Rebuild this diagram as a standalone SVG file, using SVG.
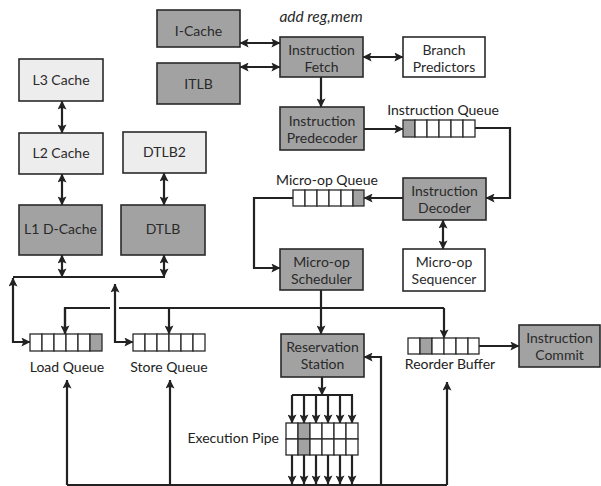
<svg xmlns="http://www.w3.org/2000/svg" width="601" height="486" viewBox="0 0 601 486">
  <defs>
    <marker id="ah" viewBox="0 0 10 10" refX="9.5" refY="5" markerUnits="userSpaceOnUse" markerWidth="9" markerHeight="9" orient="auto-start-reverse">
      <path d="M0,0 L10,5 L0,10 L2,5 z" fill="#222"/>
    </marker>
  </defs>
  <style>
    .box { stroke: #2a2a2a; stroke-width: 1.6; }
    .dark { fill: #a2a2a2; }
    .light { fill: #ededed; }
    .white { fill: #ffffff; }
    .cell { fill: #ffffff; stroke: #2a2a2a; stroke-width: 1.3; }
    .cell.g { fill: #a2a2a2; }
    text { font-family: Lato, "Open Sans", "DejaVu Sans", sans-serif; font-size: 14px; fill: #2a2a2a; text-anchor: middle; }
    .lbl { fill: #222; }
    .conn { fill: none; stroke: #222; stroke-width: 2.2; }
    .a2 { marker-start: url(#ah); marker-end: url(#ah); }
    .a1 { marker-end: url(#ah); }
  </style>

  <!-- connectors -->
  <g id="connectors">
    <path class="conn a2" d="M240,43 H280"/>
    <path class="conn a2" d="M240,67 H280"/>
    <path class="conn a2" d="M363,57 H403"/>
    <path class="conn a1" d="M321,77 V107"/>
    <path class="conn a1" d="M364,129 H403"/>
    <path class="conn a1" d="M475,128 H510 V198 H486"/>
    <path class="conn a1" d="M403,198 H364"/>
    <path class="conn a1" d="M293,198 H254 V268 H280"/>
    <path class="conn a2" d="M443,220 V249"/>
    <path class="conn a2" d="M62,101 V133"/>
    <path class="conn a2" d="M62,174 V205"/>
    <path class="conn a2" d="M164,173 V205"/>
    <path class="conn a2" d="M62,255 V277"/>
    <path class="conn a2" d="M164,255 V277"/>
    <path class="conn" d="M13,277 H165"/>
    <path class="conn a2" d="M13,278 V342 H30"/>
    <path class="conn a2" d="M115,284 V342 H133"/>
    <!-- issue bus from the scheduler -->
    <path class="conn" d="M65,334 V308 H110 M119,308 H444"/>
    <path class="conn a1" d="M65,308 V334"/>
    <path class="conn a1" d="M169,308 V334"/>
    <path class="conn a1" d="M444,308 V338"/>
    <path class="conn a1" d="M321,290 V334"/>
    <!-- execution pipe fan-out -->
    <path class="conn a1" d="M322,377 V395"/>
    <path class="conn" d="M292,395 H353"/>
    <path class="conn a1" d="M292,395 V423"/>
    <path class="conn a1" d="M304,395 V423"/>
    <path class="conn a1" d="M316,395 V423"/>
    <path class="conn a1" d="M328,395 V423"/>
    <path class="conn a1" d="M340,395 V423"/>
    <path class="conn a1" d="M352,395 V423"/>
    <path class="conn a1" d="M292,455 V484"/>
    <path class="conn a1" d="M304,455 V484"/>
    <path class="conn a1" d="M316,455 V484"/>
    <path class="conn a1" d="M328,455 V484"/>
    <path class="conn a1" d="M340,455 V484"/>
    <path class="conn a1" d="M352,455 V484"/>
    <!-- result bus -->
    <path class="conn" d="M67,485 H447"/>
    <path class="conn a1" d="M67,485 V380"/>
    <path class="conn a1" d="M170,485 V380"/>
    <path class="conn a1" d="M447,485 V382"/>
    <path class="conn a1" d="M381,485 V357 H364"/>
    <path class="conn a1" d="M479,346 H519"/>
  </g>

  <text x="321" y="22" style="font-style:italic;font-size:15.5px">add reg,mem</text>

  <g id="icache"><rect class="box dark" x="157" y="10" width="83" height="37"/><text x="198.5" y="36">I-Cache</text></g>
  <g id="itlb"><rect class="box dark" x="157" y="63" width="83" height="41"/><text x="198.5" y="89">ITLB</text></g>
  <g id="fetch"><rect class="box dark" x="280" y="37" width="83" height="40"/><text x="321.5" y="55">Instruction</text><text x="321.5" y="72">Fetch</text></g>
  <g id="branch"><rect class="box white" x="403" y="37" width="82" height="40"/><text x="444" y="55">Branch</text><text x="444" y="72">Predictors</text></g>
  <g id="predecoder"><rect class="box dark" x="280" y="107" width="84" height="43"/><text x="322" y="126">Instruction</text><text x="322" y="143">Predecoder</text></g>

  <g id="instruction-queue">
    <rect class="cell g" x="403" y="120" width="12" height="17"/>
    <rect class="cell" x="415" y="120" width="12" height="17"/>
    <rect class="cell" x="427" y="120" width="12" height="17"/>
    <rect class="cell" x="439" y="120" width="12" height="17"/>
    <rect class="cell" x="451" y="120" width="12" height="17"/>
    <rect class="cell" x="463" y="120" width="12" height="17"/>
    <text class="lbl" x="443" y="115">Instruction Queue</text>
  </g>

  <g id="decoder"><rect class="box dark" x="403" y="178" width="83" height="42"/><text x="444.5" y="196">Instruction</text><text x="444.5" y="213">Decoder</text></g>

  <g id="microop-queue">
    <rect class="cell" x="293" y="190" width="12" height="16"/>
    <rect class="cell" x="305" y="190" width="12" height="16"/>
    <rect class="cell" x="317" y="190" width="12" height="16"/>
    <rect class="cell" x="329" y="190" width="12" height="16"/>
    <rect class="cell" x="341" y="190" width="12" height="16"/>
    <rect class="cell g" x="353" y="190" width="11" height="16"/>
    <text class="lbl" x="327" y="185">Micro-op Queue</text>
  </g>

  <g id="scheduler"><rect class="box dark" x="280" y="249" width="83" height="41"/><text x="321.5" y="267">Micro-op</text><text x="321.5" y="284">Scheduler</text></g>
  <g id="sequencer"><rect class="box white" x="403" y="249" width="82" height="42"/><text x="444" y="267">Micro-op</text><text x="444" y="284">Sequencer</text></g>

  <g id="l3"><rect class="box light" x="19" y="59" width="84" height="42"/><text x="61" y="85">L3 Cache</text></g>
  <g id="l2"><rect class="box light" x="19" y="133" width="84" height="41"/><text x="61" y="158">L2 Cache</text></g>
  <g id="dtlb2"><rect class="box light" x="123" y="132" width="83" height="41"/><text x="164.5" y="157">DTLB2</text></g>
  <g id="l1"><rect class="box dark" x="19" y="205" width="83" height="50"/><text x="60.5" y="234">L1 D-Cache</text></g>
  <g id="dtlb"><rect class="box dark" x="121" y="205" width="84" height="50"/><text x="163" y="234">DTLB</text></g>

  <g id="load-queue">
    <rect class="cell" x="30" y="334" width="12" height="17"/>
    <rect class="cell" x="42" y="334" width="12" height="17"/>
    <rect class="cell" x="54" y="334" width="12" height="17"/>
    <rect class="cell" x="66" y="334" width="12" height="17"/>
    <rect class="cell" x="78" y="334" width="12" height="17"/>
    <rect class="cell g" x="90" y="334" width="12" height="17"/>
    <text class="lbl" x="67" y="372">Load Queue</text>
  </g>
  <g id="store-queue">
    <rect class="cell" x="133" y="334" width="12" height="17"/>
    <rect class="cell" x="145" y="334" width="12" height="17"/>
    <rect class="cell" x="157" y="334" width="12" height="17"/>
    <rect class="cell" x="169" y="334" width="12" height="17"/>
    <rect class="cell" x="181" y="334" width="12" height="17"/>
    <rect class="cell" x="193" y="334" width="12" height="17"/>
    <text class="lbl" x="169" y="372">Store Queue</text>
  </g>

  <g id="reservation-station"><rect class="box dark" x="281" y="334" width="83" height="43"/><text x="322.5" y="352">Reservation</text><text x="322.5" y="369">Station</text></g>

  <g id="execution-pipe">
    <rect class="cell" x="286" y="423" width="12" height="16"/>
    <rect class="cell g" x="298" y="423" width="12" height="16"/>
    <rect class="cell" x="310" y="423" width="12" height="16"/>
    <rect class="cell" x="322" y="423" width="12" height="16"/>
    <rect class="cell" x="334" y="423" width="12" height="16"/>
    <rect class="cell" x="346" y="423" width="12" height="16"/>
    <rect class="cell" x="286" y="439" width="12" height="16"/>
    <rect class="cell g" x="298" y="439" width="12" height="16"/>
    <rect class="cell" x="310" y="439" width="12" height="16"/>
    <rect class="cell" x="322" y="439" width="12" height="16"/>
    <rect class="cell" x="334" y="439" width="12" height="16"/>
    <rect class="cell" x="346" y="439" width="12" height="16"/>
    <text class="lbl" x="279" y="443" style="text-anchor:end">Execution Pipe</text>
  </g>

  <g id="reorder-buffer">
    <rect class="cell" x="408" y="338" width="12" height="16"/>
    <rect class="cell g" x="420" y="338" width="12" height="16"/>
    <rect class="cell" x="432" y="338" width="12" height="16"/>
    <rect class="cell" x="444" y="338" width="12" height="16"/>
    <rect class="cell" x="456" y="338" width="12" height="16"/>
    <rect class="cell" x="468" y="338" width="11" height="16"/>
    <text class="lbl" x="450" y="369">Reorder Buffer</text>
  </g>

  <g id="commit"><rect class="box dark" x="519" y="325" width="81" height="42"/><text x="559.5" y="343">Instruction</text><text x="559.5" y="360">Commit</text></g>
</svg>
